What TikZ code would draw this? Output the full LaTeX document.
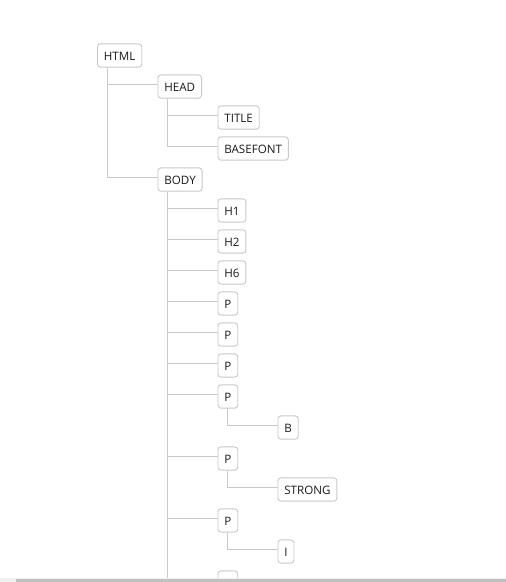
\documentclass[tikz,border=0pt]{standalone}
\usepackage{fontspec}
\setmainfont{Open Sans}
\usepackage{tikz}
\usetikzlibrary{positioning, backgrounds}
\definecolor{boxgray}{HTML}{C8C8C8}
\definecolor{bargray}{HTML}{F0F0F0}
\definecolor{thumbgray}{HTML}{C1C1C1}
\tikzstyle{tag}=[draw=boxgray,line width=0.9pt,rounded corners=3pt,anchor=west,fill=white,
  font=\fontsize{11.6}{12}\selectfont,text=black!90,inner xsep=6.4pt,inner ysep=0pt,
  minimum height=23.3pt,text height=10.4pt,text depth=0pt]
\tikzstyle{branch}=[draw=boxgray,line width=0.9pt]

\begin{document}
\begin{tikzpicture}[x=1pt,y=-1pt]
\useasboundingbox (0,0) rectangle (506,582);
\clip (0,0) rectangle (506,582);
%\draw[step=31pt,gray,very thin] (0,0) grid (506,582);
\node[tag] (html) at (97,55.5){HTML};
\node[tag] (head) at (157.5,86.5){HEAD};
\node[tag] (title) at (217.5,117.5){TITLE};
\node[tag] (basefont) at (217.5,148.5){BASEFONT};
\node[tag] (body) at (157.5,179.5){BODY};
\node[tag] (h1) at (217.5,210.5){H1};
\node[tag] (h2) at (217.5,241.5){H2};
\node[tag] (h6) at (217.5,272.5){H6};
\node[tag] (p1) at (217.5,303.5){P};
\node[tag] (p2) at (217.5,334.5){P};
\node[tag] (p3) at (217.5,365.5){P};
\node[tag] (p4) at (217.5,396.5){P};
\node[tag] (b) at (277.5,427.5){B};
\node[tag] (p5) at (217.5,458.5){P};
\node[tag] (strong) at (277.5,489.5){STRONG};
\node[tag] (p6) at (217.5,520.5){P};
\node[tag] (i) at (277.5,551.5){I};
\node[tag] (p7) at (217.5,582.5){P};

\begin{scope}[on background layer]
\foreach \parent/\child in {html/head,html/body,head/title,head/basefont,
  body/h1,body/h2,body/h6,body/p1,body/p2,body/p3,body/p4,body/p5,body/p6,body/p7,
  p4/b,p5/strong,p6/i}
  \draw[branch] ([xshift=10pt]\parent.south west) |- ([yshift=2.5pt]\child.west);
\end{scope}

% scrollbar
\fill[bargray] (0,577.7) rectangle (506,582);
\fill[thumbgray] (16,579.3) rectangle (506,582);
\end{tikzpicture}
\end{document}
